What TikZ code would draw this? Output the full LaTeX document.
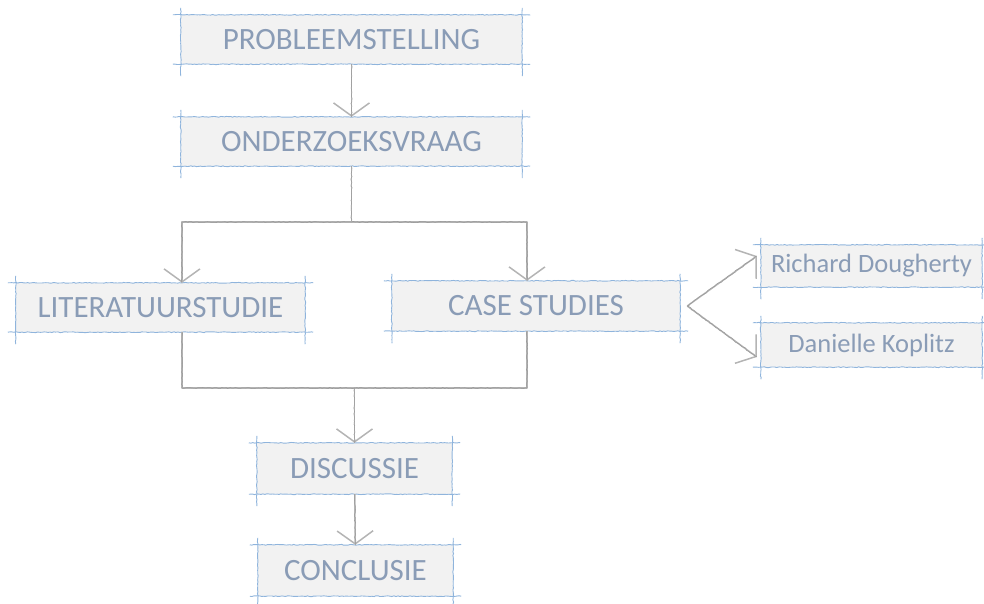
\documentclass[tikz,border=0pt]{standalone}
\usepackage{fontspec}
\setmainfont{Carlito}
\usetikzlibrary{arrows.meta,decorations.pathmorphing,calc}
\definecolor{boxfill}{HTML}{F2F2F2}
\definecolor{boxblue}{HTML}{8FB4DC}
\definecolor{txtblue}{HTML}{8A9CB6}
\definecolor{linegray}{HTML}{B4B4B4}
\tikzstyle{stap}=[fill=boxfill, text=txtblue, inner sep=0pt, font=\fontsize{31}{36}\selectfont]
\tikzstyle{naam}=[stap, font=\fontsize{26.5}{30}\selectfont]
\tikzstyle{boxline}=[draw=boxblue, line width=0.9pt, decorate, decoration={random steps, segment length=2pt, amplitude=0.4pt}]
\tikzstyle{conn}=[draw=linegray, line width=1.5pt, line join=round, postaction={draw=gray!80, -, line width=0.5pt, decorate, decoration={random steps, segment length=2pt, amplitude=0.7pt}}]
\tikzstyle{arw}=[conn, -{Straight Barb[length=13pt,width=36pt]}]

\begin{document}
\begin{tikzpicture}[x=1pt,y=-1pt]
    \useasboundingbox (0,0) rectangle (984,603);

    % stappen
    \node[stap, minimum width=341pt, minimum height=49pt] (prob) at (351.5,39.5) {PROBLEEMSTELLING};
    \node[stap, minimum width=341pt, minimum height=49pt] (onder) at (351.5,141.5) {ONDERZOEKSVRAAG};
    \node[stap, minimum width=289pt, minimum height=49pt] (lit) at (160.5,307.5) {LITERATUURSTUDIE};
    \node[stap, minimum width=288pt, minimum height=50pt] (case) at (536,306) {CASE STUDIES};
    \node[naam, minimum width=221pt, minimum height=42pt] (rich) at (871.5,266) {Richard Dougherty};
    \node[naam, minimum width=221pt, minimum height=44pt] (dan) at (871.5,345) {Danielle Koplitz};
    \node[stap, minimum width=195pt, minimum height=51pt] (disc) at (354.5,468.5) {DISCUSSIE};
    \node[stap, minimum width=195pt, minimum height=51pt] (conc) at (355.5,570.5) {CONCLUSIE};

    % schetsranden
    \foreach \n in {prob,onder,lit,case,rich,dan,disc,conc}{
        \draw[boxline] ([xshift=-8pt]\n.north west) -- ([xshift=8pt]\n.north east);
        \draw[boxline] ([xshift=-8pt]\n.south west) -- ([xshift=8pt]\n.south east);
        \draw[boxline] ([yshift=7pt]\n.north west) -- ([yshift=-12pt]\n.south west);
        \draw[boxline] ([yshift=7pt]\n.north east) -- ([yshift=-12pt]\n.south east);
    }

    \coordinate (splits) at (351.5,222);
    \coordinate (joins) at (354.5,388);
    \coordinate (fork) at ($(case.east)+(7pt,0)$);

    \draw[arw] (prob) -- (onder);
    \draw[conn] (onder) -- (splits);
    \draw[arw] (splits) -| ([xshift=21.5pt]lit.north);
    \draw[arw] (splits) -| ([xshift=-9pt]case.north);
    \draw[conn] ([xshift=21.5pt]lit.south) |- (joins);
    \draw[conn] ([xshift=-9pt]case.south) |- (joins);
    \draw[arw] (joins) -- (disc);
    \draw[arw] (disc) -- (conc);
    %\draw[arw] (case) -- (rich);
    \draw[arw] (fork) -- ([shift={(-4pt,10pt)}]rich.west);
    \draw[arw] (fork) -- ([shift={(-4pt,-12pt)}]dan.west);
\end{tikzpicture}
\end{document}
